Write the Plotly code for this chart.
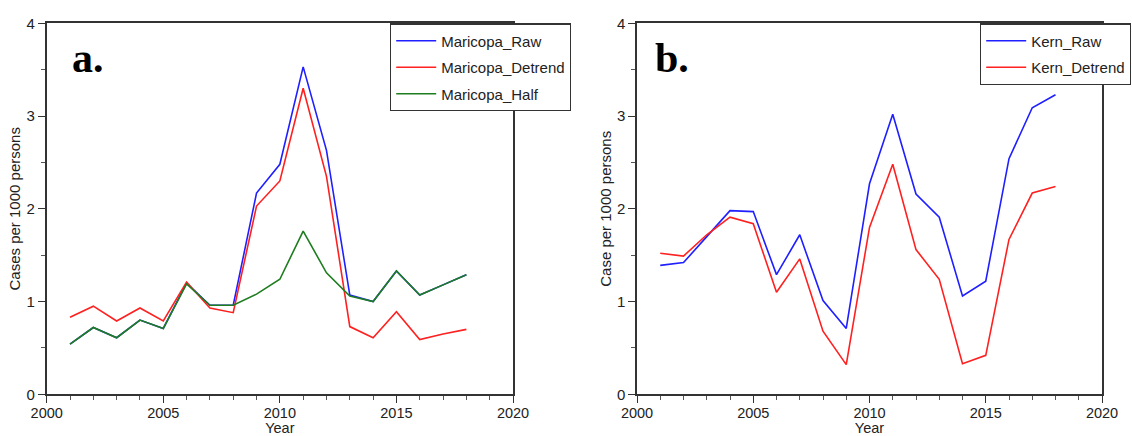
import plotly.graph_objects as go

years = list(range(2001, 2019))
maricopa_raw = [0.54, 0.72, 0.61, 0.80, 0.71, 1.20, 0.96, 0.96, 2.17, 2.48, 3.53, 2.63, 1.07, 1.00, 1.33, 1.07, 1.18, 1.29]
maricopa_detrend = [0.83, 0.95, 0.79, 0.93, 0.79, 1.21, 0.93, 0.88, 2.03, 2.30, 3.30, 2.35, 0.73, 0.61, 0.89, 0.59, 0.65, 0.70]
maricopa_half = [0.54, 0.72, 0.61, 0.80, 0.71, 1.19, 0.96, 0.96, 1.08, 1.24, 1.76, 1.31, 1.06, 1.00, 1.33, 1.07, 1.18, 1.29]
kern_raw = [1.39, 1.42, 1.70, 1.98, 1.97, 1.29, 1.72, 1.01, 0.71, 2.27, 3.02, 2.16, 1.91, 1.06, 1.22, 2.54, 3.09, 3.23]
kern_detrend = [1.52, 1.49, 1.72, 1.91, 1.84, 1.10, 1.46, 0.68, 0.32, 1.80, 2.48, 1.56, 1.24, 0.33, 0.42, 1.67, 2.17, 2.24]

W, H = 1132, 436
BLUE = "#1f1fff"
RED = "#ff2020"
GREEN = "#1e7d1e"
FONT = "Liberation Sans, Arial, sans-serif"

fig = go.Figure()

def add(x, y, name, color, xa, ya, legend):
    fig.add_trace(go.Scatter(
        x=x, y=y, name=name, mode="lines",
        line=dict(color=color, width=1.6),
        xaxis=xa, yaxis=ya, legend=legend, legendgroup=name,
    ))

add(years, maricopa_raw, "Maricopa_Raw", BLUE, "x", "y", "legend")
add(years, maricopa_detrend, "Maricopa_Detrend", RED, "x", "y", "legend")
add(years, maricopa_half, "Maricopa_Half", GREEN, "x", "y", "legend")
add(years, kern_raw, "Kern_Raw", BLUE, "x2", "y2", "legend2")
add(years, kern_detrend, "Kern_Detrend", RED, "x2", "y2", "legend2")

ytop = 1 - 23.3 / H
ybot = 1 - 394.3 / H

def xax(domain, anchor):
    return dict(
        domain=domain, anchor=anchor, range=[2000, 2020],
        tickmode="linear", tick0=2000, dtick=5,
        ticks="outside", ticklen=7, tickwidth=1.2, tickcolor="#333",
        minor=dict(dtick=1, ticks="outside", ticklen=4, tickwidth=1, tickcolor="#555"),
        showline=True, linecolor="#333", linewidth=1.5, mirror=True,
        showgrid=False, zeroline=False, ticklabelstandoff=-2,
        tickfont=dict(family=FONT, size=14.5, color="#222"),
        title=dict(text="Year", font=dict(family=FONT, size=14.5, color="#222"), standoff=6),
    )

def yax(anchor, title):
    return dict(
        domain=[ybot, ytop], anchor=anchor, range=[0, 4],
        tickmode="linear", tick0=0, dtick=1,
        ticks="outside", ticklen=7, tickwidth=1.2, tickcolor="#333",
        minor=dict(dtick=0.5, ticks="outside", ticklen=4, tickwidth=1, tickcolor="#555"),
        showline=True, linecolor="#333", linewidth=1.5, mirror=True,
        showgrid=False, zeroline=False,
        tickfont=dict(family=FONT, size=15, color="#222"),
        title=dict(text=title, font=dict(family=FONT, size=15, color="#222"), standoff=2),
    )

leg_common = dict(
    bgcolor="white", bordercolor="#333", borderwidth=1.2,
    font=dict(family=FONT, size=15, color="#222"),
    xanchor="left", yanchor="top", tracegroupgap=4, itemwidth=40,
    itemclick=False, itemdoubleclick=False,
)

fig.update_layout(
    width=W, height=H,
    margin=dict(l=0, r=0, t=0, b=0, autoexpand=False),
    paper_bgcolor="white", plot_bgcolor="white",
    showlegend=True,
    xaxis=xax([46.7 / W, 513 / W], "y"),
    yaxis=yax("x", "Cases per 1000 persons"),
    xaxis2=xax([637 / W, 1102 / W], "y2"),
    yaxis2=yax("x2", "Case per 1000 persons"),
    legend=dict(x=390 / W, y=ytop, **leg_common),
    legend2=dict(x=980 / W, y=ytop, **leg_common),
    annotations=[
        dict(text="<b>a.</b>", xref="paper", yref="paper", x=70 / W, y=1 - 58 / H,
             xanchor="left", yanchor="middle", showarrow=False,
             font=dict(family="Liberation Serif, Times New Roman, serif", size=42, color="black")),
        dict(text="<b>b.</b>", xref="paper", yref="paper", x=653 / W, y=1 - 58 / H,
             xanchor="left", yanchor="middle", showarrow=False,
             font=dict(family="Liberation Serif, Times New Roman, serif", size=42, color="black")),
    ],
)

fig.write_html("out.html")
